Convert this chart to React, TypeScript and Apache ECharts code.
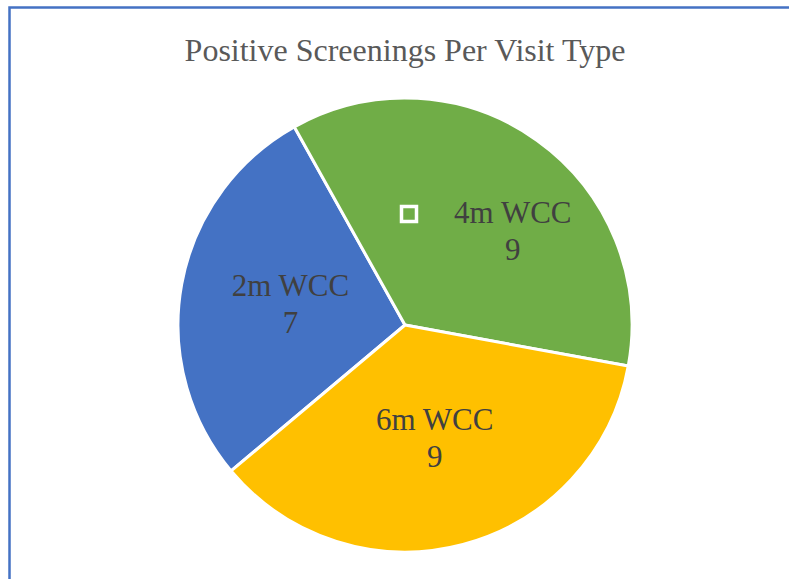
import React, { useEffect, useRef } from "react";
import * as echarts from "echarts";

const titleText = "Positive Screenings Per Visit Type";
const categories = ["2m WCC", "4m WCC", "6m WCC"];
const values = [7, 9, 9];
const colors = ["#4472C4", "#70AD47", "#FFC000"];

export default function App() {
  const ref = useRef<HTMLDivElement>(null);
  useEffect(() => {
    if (!ref.current) return;
    const chart = echarts.init(ref.current, undefined, { renderer: "svg" });
    const font = '"Liberation Serif", "Times New Roman", serif';
    chart.setOption({
      animation: false,
      backgroundColor: "#ffffff",
      title: {
        text: titleText,
        left: 400,
        textAlign: "center",
        top: 29,
        textStyle: { fontFamily: font, fontSize: 32, fontWeight: "normal", color: "#595959" },
      },
      graphic: [
        {
          type: "rect",
          shape: { x: 9.5, y: 7.5, width: 800, height: 600 },
          style: { fill: "none", stroke: "#4472C4", lineWidth: 2.5 },
          silent: true,
        },
        {
          type: "rect",
          z: 100,
          shape: { x: 401.5, y: 206.5, width: 15, height: 15 },
          style: { fill: "none", stroke: "#ffffff", lineWidth: 3.5 },
          silent: true,
        },
      ],
      series: [
        {
          type: "pie",
          center: [405, 325],
          radius: 227,
          startAngle: 220,
          clockwise: true,
          avoidLabelOverlap: false,
          itemStyle: { borderColor: "#ffffff", borderWidth: 3 },
          label: {
            show: true,
            position: "inside",
            formatter: "{b}\n{c}",
            fontFamily: font,
            fontSize: 31,
            lineHeight: 37,
            color: "#404040",
          },
          labelLine: { show: false },
          data: categories.map((name, i) => ({
            name,
            value: values[i],
            itemStyle: { color: colors[i] },
            label: i === 1 ? { offset: [40, 1] } : undefined,
          })),
        },
      ],
    });
    return () => chart.dispose();
  }, []);
  return (
    <div
      ref={ref}
      style={{ position: "absolute", left: 0, top: 0, width: 789, height: 579 }}
    />
  );
}
